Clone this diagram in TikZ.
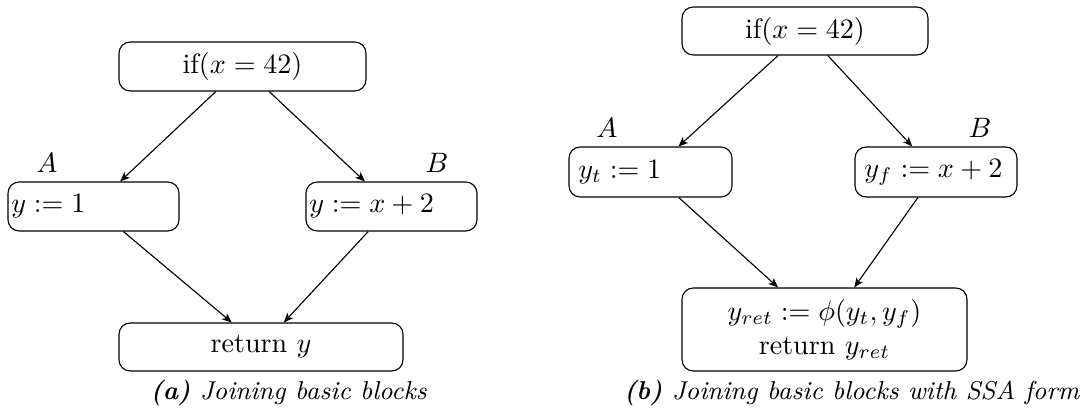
\documentclass[tikz,border=0pt]{standalone}
\usetikzlibrary{arrows.meta}
\def\pxu{0.3559pt}
\begin{document}
\begin{tikzpicture}[x=\pxu, y=-\pxu,
  blk/.style={draw, rounded corners=4pt, line width=0.4pt, inner sep=0pt},
  cblk/.style={blk, align=center},
  lblk/.style={blk, align=left},
  lab/.style={inner sep=0pt},
  captext/.style={inner sep=0pt, font=\fontsize{9.2}{11}\selectfont\itshape},
  flow/.style={-{Stealth[length=3.4pt, width=2.8pt, inset=0.9pt]}, line width=0.4pt}]
\useasboundingbox (0,0) rectangle (1086,417);

% ---- (a) plain basic blocks ----
\node[cblk, minimum width=247*\pxu, minimum height=49*\pxu] (ta) at (242.5,66.5) {if$(x = 42)$};
\node[lblk, text width=171*\pxu-2.4pt, inner xsep=1.2pt, minimum height=49*\pxu] (aa) at (93.5,206.5) {$y := 1$};
\node[lblk, text width=171*\pxu-2.4pt, inner xsep=1.2pt, minimum height=49*\pxu] (ba) at (391.5,206.5) {$y := x + 2$};
\node[cblk, minimum width=284*\pxu, minimum height=48*\pxu] (ra) at (261,347) {return $y$};
\node[lab] (la) at (47,163) {$A$};
\node[lab] (lb) at (437,163) {$B$};
\draw[flow] (ta) -- (aa);
\draw[flow] (ta) -- (ba);
\draw[flow] (aa) -- (ra);
\draw[flow] (ba) -- (ra);
\node[captext, anchor=base west] (capa) at (150,400) {\textbf{\textit{(a)}} Joining basic blocks};

% ---- (b) the same blocks in SSA form ----
\node[cblk, minimum width=246*\pxu, minimum height=48*\pxu] (tb) at (805,31) {if$(x = 42)$};
\node[lblk, text width=163*\pxu-6.66pt, inner xsep=3.33pt, minimum height=50*\pxu] (ab) at (650.5,172) {$y_t := 1$};
\node[lblk, text width=162*\pxu-6.66pt, inner xsep=3.33pt, minimum height=50*\pxu] (bb) at (936,172) {$y_f := x + 2$};
\node[cblk, minimum width=285*\pxu, minimum height=83*\pxu] (rb) at (824.5,329.5) {$y_{ret} := \phi(y_t, y_f)$\\ return $y_{ret}$};
\node[lab] (lab2) at (607,128) {$A$};
\node[lab] (lbb2) at (980,128) {$B$};
\draw[flow] (tb) -- (ab);
\draw[flow] (tb) -- (bb);
\draw[flow] (ab) -- (rb);
\draw[flow] (bb) -- (rb);
\node[captext, anchor=base east] (capb) at (1080,400) {\textbf{\textit{(b)}} Joining basic blocks with SSA form};
\end{tikzpicture}
\end{document}
